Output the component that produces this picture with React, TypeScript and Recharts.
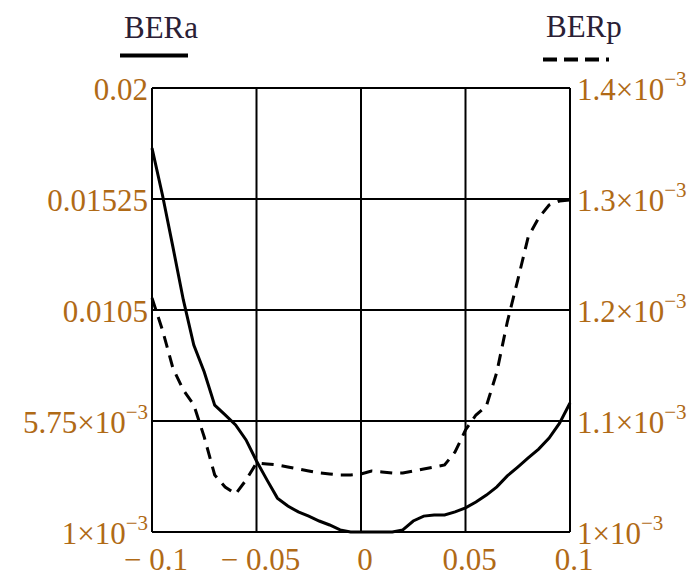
import { LineChart, Line, XAxis, YAxis, CartesianGrid, Legend } from "recharts";

const FONT = '"Liberation Serif", "Times New Roman", serif';
const TICK_COLOR = "#b06a16";
const LEGEND_COLOR = "#2a2035";

// offset of the signal (x axis)
const xValues = [
  -0.1, -0.095, -0.09, -0.085, -0.08, -0.075, -0.07, -0.065, -0.06, -0.055,
  -0.05, -0.045, -0.04, -0.035, -0.03, -0.025, -0.02, -0.015, -0.01, -0.005,
  0, 0.005, 0.01, 0.015, 0.02, 0.025, 0.03, 0.035, 0.04, 0.045,
  0.05, 0.055, 0.06, 0.065, 0.07, 0.075, 0.08, 0.085, 0.09, 0.095, 0.1,
];

// left axis series
const berA = [
  0.01743, 0.01542, 0.0132, 0.01093, 0.009, 0.00785, 0.00643, 0.00601, 0.00558, 0.00494,
  0.00404, 0.00323, 0.00245, 0.00211, 0.00186, 0.00168, 0.00147, 0.0013, 0.00109, 0.001,
  0.001, 0.001, 0.001, 0.001, 0.00109, 0.00147, 0.00168, 0.00173, 0.00173, 0.00186,
  0.00203, 0.00228, 0.00258, 0.00293, 0.0034, 0.00378, 0.00417, 0.00455, 0.00502, 0.00566, 0.00652,
];

// right axis series
const berP = [
  0.0012108, 0.001182, 0.0011477, 0.0011279, 0.0011144, 0.0010856, 0.0010514, 0.0010405, 0.0010342, 0.0010468,
  0.0010622, 0.0010613, 0.0010604, 0.0010586, 0.0010568, 0.001055, 0.0010532, 0.0010523, 0.0010514, 0.0010514,
  0.0010523, 0.001055, 0.0010541, 0.0010532, 0.0010532, 0.001055, 0.0010568, 0.0010586, 0.0010604, 0.0010721,
  0.0010919, 0.0011054, 0.0011135, 0.0011441, 0.0011892, 0.001227, 0.0012658, 0.0012829, 0.0012946, 0.0012982, 0.0012991,
];

const xTicks = [-0.1, -0.05, 0, 0.05, 0.1];
const xTickLabels = ["\u2212 0.1", "\u2212 0.05", "0", "0.05", "0.1"];
const leftTicks = [0.001, 0.00575, 0.0105, 0.01525, 0.02];
const leftTickLabels = ["1\u00d710^\u22123", "5.75\u00d710^\u22123", "0.0105", "0.01525", "0.02"];
const rightTicks = [0.001, 0.0011, 0.0012, 0.0013, 0.0014];
const rightTickLabels = [
  "1\u00d710^\u22123",
  "1.1\u00d710^\u22123",
  "1.2\u00d710^\u22123",
  "1.3\u00d710^\u22123",
  "1.4\u00d710^\u22123",
];

const data = xValues.map((x, i) => ({ x, BERa: berA[i], BERp: berP[i] }));

function findIndex(ticks: number[], v: number) {
  return ticks.findIndex((t) => Math.abs(t - v) < 1e-9);
}

function PowerLabel({ x, y, label, anchor }: { x: number; y: number; label: string; anchor: "start" | "end" | "middle" }) {
  const [base, sup] = label.split("^");
  return (
    <text x={x} y={y} textAnchor={anchor} fontFamily={FONT} fontSize={31} fill={TICK_COLOR}>
      <tspan>{base}</tspan>
      {sup && (
        <tspan dy={-14} fontSize={21}>
          {sup}
        </tspan>
      )}
    </text>
  );
}

function LeftTick(props: any) {
  const i = findIndex(leftTicks, props.payload.value);
  if (i < 0) return null;
  return <PowerLabel x={props.x - 4} y={props.y + 12} label={leftTickLabels[i]} anchor="end" />;
}

function RightTick(props: any) {
  const i = findIndex(rightTicks, props.payload.value);
  if (i < 0) return null;
  return <PowerLabel x={props.x + 7} y={props.y + 12} label={rightTickLabels[i]} anchor="start" />;
}

function BottomTick(props: any) {
  const i = findIndex(xTicks, props.payload.value);
  if (i < 0) return null;
  return <PowerLabel x={props.x + 4} y={props.y + 38} label={xTickLabels[i]} anchor="middle" />;
}

function LegendBox() {
  return (
    <svg width={698} height={70}>
      <text x={124} y={38} fontFamily={FONT} fontSize={31} fill={LEGEND_COLOR}>
        BERa
      </text>
      <line x1={120} y1={55.5} x2={188} y2={55.5} stroke="#000" strokeWidth={4} />
      <text x={546} y={37} fontFamily={FONT} fontSize={31} fill={LEGEND_COLOR}>
        BERp
      </text>
      <line x1={543} y1={59.5} x2={609} y2={59.5} stroke="#000" strokeWidth={4} strokeDasharray="14 7" />
    </svg>
  );
}

export default function App() {
  return (
    <div style={{ position: "absolute", left: 0, top: 0, width: 698, height: 576, background: "#fff" }}>
      <LineChart width={698} height={576} data={data} margin={{ top: 88, right: 0, bottom: 0, left: 0 }}>
        <CartesianGrid yAxisId="left" stroke="#000" strokeWidth={2} />
        <XAxis
          dataKey="x"
          type="number"
          domain={[-0.1, 0.1]}
          ticks={xTicks}
          height={44}
          tickSize={0}
          tickMargin={0}
          tickLine={false}
          axisLine={{ stroke: "#000", strokeWidth: 2 }}
          tick={<BottomTick />}
          interval={0}
        />
        <YAxis
          yAxisId="left"
          type="number"
          domain={[0.001, 0.02]}
          ticks={leftTicks}
          width={152}
          tickSize={0}
          tickMargin={0}
          tickLine={false}
          axisLine={{ stroke: "#000", strokeWidth: 2 }}
          tick={<LeftTick />}
          interval={0}
        />
        <YAxis
          yAxisId="right"
          orientation="right"
          type="number"
          domain={[0.001, 0.0014]}
          ticks={rightTicks}
          width={128}
          tickSize={0}
          tickMargin={0}
          tickLine={false}
          axisLine={{ stroke: "#000", strokeWidth: 2 }}
          tick={<RightTick />}
          interval={0}
        />
        <Legend
          layout="horizontal"
          verticalAlign="middle"
          align="center"
          wrapperStyle={{ position: "absolute", left: 0, top: 0, width: 698, height: 70 }}
          content={() => <LegendBox />}
        />
        <Line
          yAxisId="left"
          type="linear"
          dataKey="BERa"
          stroke="#000"
          strokeWidth={3}
          dot={false}
          isAnimationActive={false}
        />
        <Line
          yAxisId="right"
          type="linear"
          dataKey="BERp"
          stroke="#000"
          strokeWidth={3}
          strokeDasharray="12 8"
          dot={false}
          isAnimationActive={false}
        />
      </LineChart>
    </div>
  );
}
